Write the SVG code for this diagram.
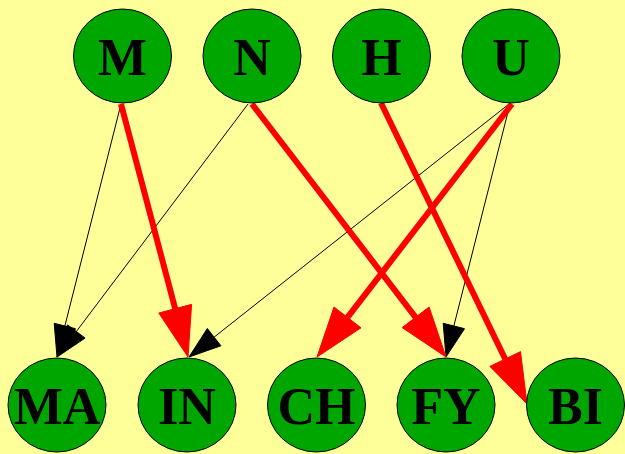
<svg xmlns="http://www.w3.org/2000/svg" width="625" height="454" viewBox="0 0 625 454">
<style>
.n ellipse{fill:#00a600;stroke:#000;stroke-width:1}
.n text{font-family:"Liberation Serif","Times New Roman",serif;font-weight:bold;font-size:52px;text-anchor:middle;fill:#000}
.thin line{stroke:#000;stroke-width:1}
.thin polygon{fill:#000;stroke:#000;stroke-width:1}
.thick line{stroke:#ff0000;stroke-width:6}
.thick polygon{fill:#ff0000;stroke:#ff0000;stroke-width:1}
</style>
<rect width="625" height="454" fill="#ffff99"/>
<g id="connectors">
<g class="thin">
<line x1="121" y1="104" x2="64.85" y2="326"/><polygon points="54.2,323.3 57,357 75.5,328.7"/>
<line x1="248" y1="104" x2="76.3" y2="331.5"/><polygon points="67.5,324.9 57,357 85.1,338.1"/>
<line x1="509" y1="104" x2="214.1" y2="337.15"/><polygon points="207.3,328.5 189,357 220.9,345.8"/>
<line x1="510" y1="104" x2="453.85" y2="326"/><polygon points="443.2,323.3 446,357 464.5,328.7"/>
</g>
<g class="thick">
<line x1="121" y1="104" x2="175.2" y2="308.7"/><polygon points="158.8,313.05 188,357 191.6,304.35"/>
<line x1="252" y1="104" x2="415.6" y2="317.3"/><polygon points="402.1,327.6 446,357 429.1,307"/>
<line x1="512" y1="104" x2="347.5" y2="317.4"/><polygon points="334,307 317,357 361,327.8"/>
<line x1="381" y1="103" x2="505.2" y2="359"/><polygon points="489.9,366.4 527,404 520.5,351.6"/>
</g>
</g>
<g id="M" class="n"><ellipse cx="122.5" cy="56" rx="49" ry="47"/><text x="122.5" y="75">M</text></g>
<g id="N" class="n"><ellipse cx="252" cy="56" rx="49" ry="47"/><text x="252" y="75">N</text></g>
<g id="H" class="n"><ellipse cx="381.5" cy="56" rx="49" ry="47"/><text x="381.5" y="75">H</text></g>
<g id="U" class="n"><ellipse cx="511" cy="56" rx="49" ry="47"/><text x="511" y="75">U</text></g>
<g id="MA" class="n"><ellipse cx="57" cy="405" rx="49" ry="47"/><text x="57" y="424">MA</text></g>
<g id="IN" class="n"><ellipse cx="187" cy="405" rx="49" ry="47"/><text x="187" y="424">IN</text></g>
<g id="CH" class="n"><ellipse cx="316.5" cy="405" rx="49" ry="47"/><text x="316.5" y="424">CH</text></g>
<g id="FY" class="n"><ellipse cx="446" cy="405" rx="49" ry="47"/><text x="446" y="424">FY</text></g>
<g id="BI" class="n"><ellipse cx="575.5" cy="405" rx="49" ry="47"/><text x="575.5" y="424">BI</text></g>
</svg>
